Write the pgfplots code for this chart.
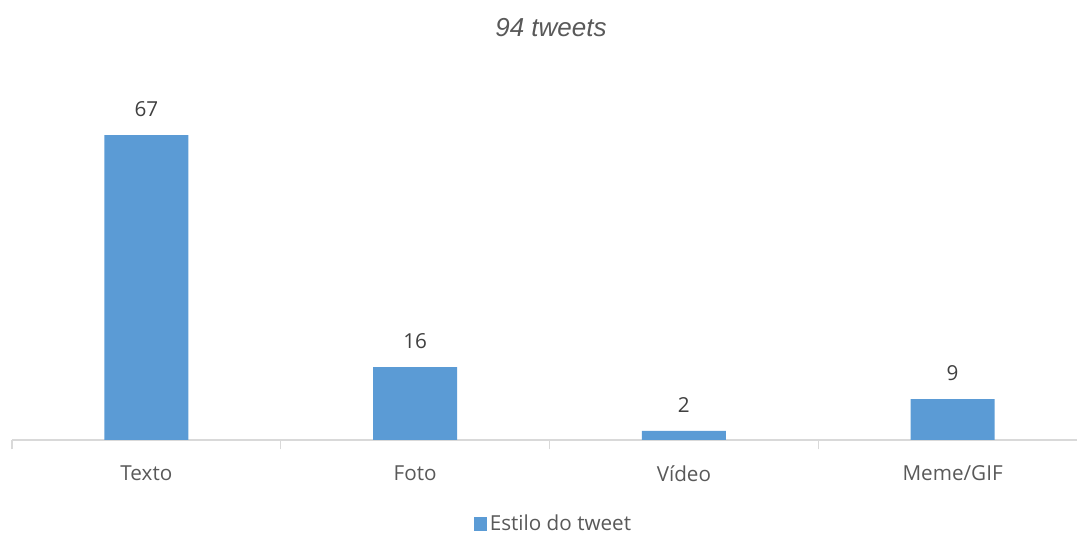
\documentclass[border=0pt]{standalone}
\usepackage{pgfplots}
\pgfplotsset{compat=1.18}
\usepackage{fontspec}
\setmainfont{Open Sans}
\newfontfamily\titlefont{Liberation Sans}
\definecolor{barblue}{HTML}{5B9BD5}
\definecolor{axgray}{HTML}{D9D9D9}
\definecolor{txtgray}{HTML}{595959}
\definecolor{numgray}{HTML}{404040}
\begin{document}
\begin{tikzpicture}
\useasboundingbox (0pt,0pt) rectangle (807.75pt,400.5pt);
\node[font=\titlefont\itshape\fontsize{19.5}{22}\selectfont, text=txtgray] at (413.25pt,379.5pt) {94 tweets};
\begin{axis}[
  at={(9pt,70.5pt)}, anchor=south west,
  scale only axis,
  width=806.25pt, height=273pt,
  xmin=-0.5, xmax=3.5, ymin=0, ymax=80,
  axis x line=bottom, axis y line=none,
  axis line style={axgray, line width=0.9pt, -},
  xtick={0,1,2,3},
  xticklabels={Texto,Foto,V\'ideo,Meme/GIF},
  major tick length=0pt,
  minor xtick={-0.5,0.5,1.5,2.5},
  minor tick length=7pt,
  tick align=outside,
  minor tick style={axgray, line width=0.9pt},
  xticklabel style={font=\fontsize{15.5}{18}\selectfont, text=txtgray, yshift=-15.5pt},
  /pgf/number format/assume math mode=true,
  ybar, bar width=63pt,
  nodes near coords,
  nodes near coords style={font=\fontsize{15.5}{18}\selectfont, text=numgray, anchor=south, yshift=10pt},
  legend style={at={(0.504,-0.231)}, anchor=center, draw=none, font=\fontsize{15.5}{18}\selectfont, text=txtgray, inner sep=0pt},
  legend image code/.code={\fill[barblue] (0pt,-5pt) rectangle (10pt,5pt);},
  clip=false,
]
\addplot[fill=barblue, draw=none] coordinates {(0,67) (1,16) (2,2) (3,9)};
\addlegendentry{Estilo do tweet}
\end{axis}
\end{tikzpicture}
\end{document}
